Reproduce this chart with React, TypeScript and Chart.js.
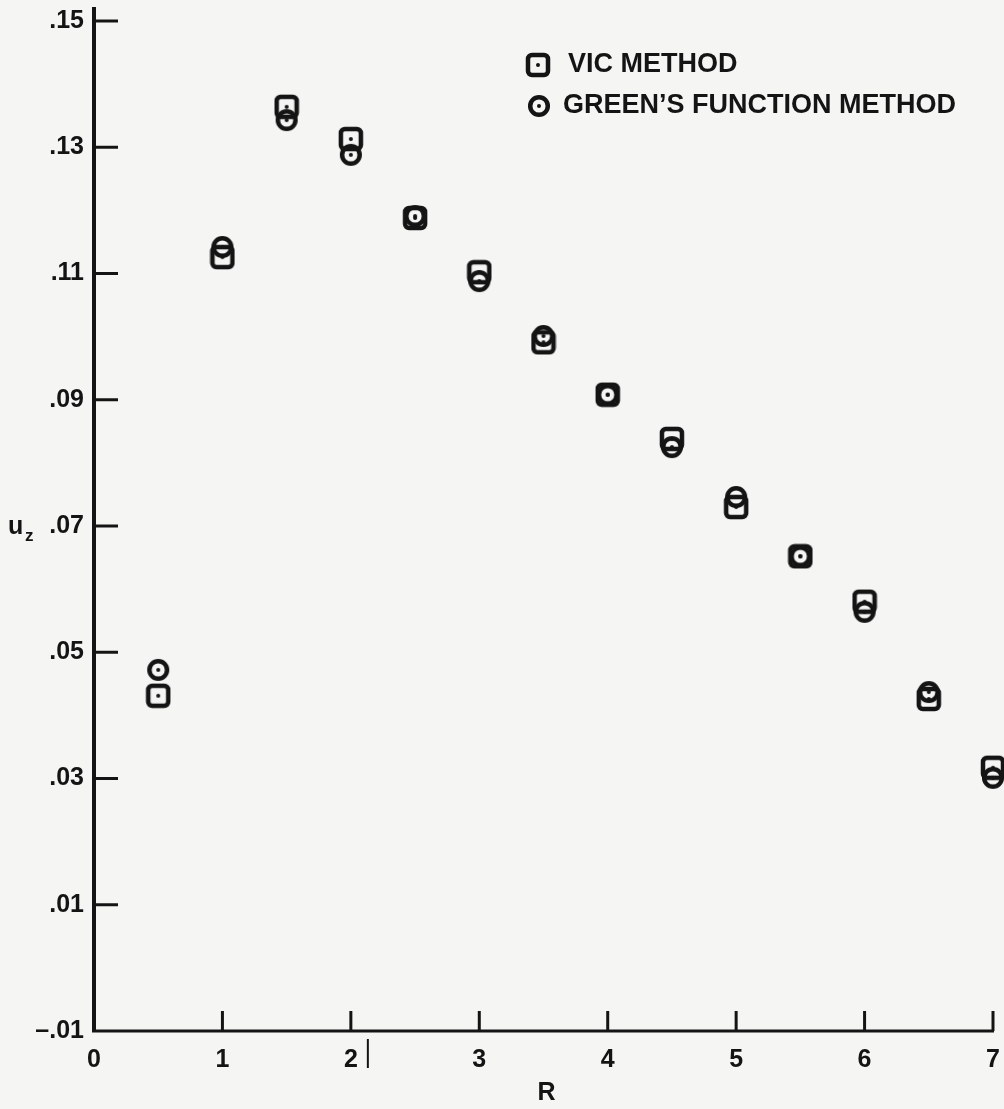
import React, { useEffect, useRef } from "react";
import { Chart, registerables } from "chart.js";

Chart.register(...registerables);

const rValues = [0.5, 1, 1.5, 2, 2.5, 3, 3.5, 4, 4.5, 5, 5.5, 6, 6.5, 7];
const vicValues = [0.0431, 0.1126, 0.1364, 0.1313, 0.1188, 0.1102, 0.0991, 0.0908, 0.0838, 0.073, 0.0652, 0.058, 0.0426, 0.0317];
const greenValues = [0.0472, 0.1142, 0.1343, 0.1288, 0.1191, 0.1088, 0.1001, 0.0908, 0.0825, 0.0746, 0.0652, 0.0564, 0.0437, 0.0301];
const yTickValues = [-0.01, 0.01, 0.03, 0.05, 0.07, 0.09, 0.11, 0.13, 0.15];
const xTickValues = [0, 1, 2, 3, 4, 5, 6, 7];
const seriesNames = ["VIC METHOD", "GREEN\u2019S FUNCTION METHOD"];
const xTitle = "R";
const yTitleMain = "u";
const yTitleSub = "z";

const INK = "#141414";
const FONT = "'Liberation Sans', Arial, Helvetica, sans-serif";

function makeSquare(): HTMLCanvasElement {
  const s = 26;
  const c = document.createElement("canvas");
  c.width = s;
  c.height = s;
  const ctx = c.getContext("2d")!;
  ctx.strokeStyle = INK;
  ctx.lineWidth = 4.5;
  ctx.beginPath();
  (ctx as any).roundRect(3, 3, 20, 20, 4);
  ctx.stroke();
  ctx.fillStyle = INK;
  ctx.beginPath();
  ctx.arc(13, 13, 2, 0, Math.PI * 2);
  ctx.fill();
  return c;
}

function makeCircle(): HTMLCanvasElement {
  const s = 24;
  const c = document.createElement("canvas");
  c.width = s;
  c.height = s;
  const ctx = c.getContext("2d")!;
  ctx.strokeStyle = INK;
  ctx.lineWidth = 4.5;
  ctx.beginPath();
  ctx.arc(12, 12, 8.8, 0, Math.PI * 2);
  ctx.stroke();
  ctx.fillStyle = INK;
  ctx.beginPath();
  ctx.arc(12, 12, 2, 0, Math.PI * 2);
  ctx.fill();
  return c;
}

function fmtY(v: number): string {
  const s = Math.abs(v).toFixed(2).replace(/^0/, "");
  return v < 0 ? "\u2013" + s : s;
}

export default function App() {
  const ref = useRef<HTMLCanvasElement | null>(null);

  useEffect(() => {
    if (!ref.current) return;
    const sq = makeSquare();
    const ci = makeCircle();

    const decor = {
      id: "decor",
      beforeDraw(chart: any) {
        const ctx = chart.ctx;
        ctx.save();
        ctx.fillStyle = "#f5f5f3";
        ctx.fillRect(0, 0, chart.width, chart.height);
        ctx.restore();
      },
      afterDraw(chart: any) {
        const ctx = chart.ctx;
        const { left, right, top, bottom } = chart.chartArea;
        const xs = chart.scales.x;
        const ys = chart.scales.y;
        ctx.save();
        ctx.strokeStyle = INK;
        ctx.lineCap = "butt";
        // y axis line
        ctx.lineWidth = 4;
        ctx.beginPath();
        ctx.moveTo(left, top - 14);
        ctx.lineTo(left, bottom + 1);
        ctx.stroke();
        // x axis line
        ctx.lineWidth = 3;
        ctx.beginPath();
        ctx.moveTo(left - 2, bottom);
        ctx.lineTo(right + 1, bottom);
        ctx.stroke();
        // y ticks pointing inward
        ctx.lineWidth = 3;
        yTickValues.forEach((v) => {
          if (v === yTickValues[0]) return;
          const py = ys.getPixelForValue(v);
          ctx.beginPath();
          ctx.moveTo(left, py);
          ctx.lineTo(left + 24, py);
          ctx.stroke();
        });
        // x ticks pointing up
        xTickValues.forEach((v) => {
          if (v === 0) return;
          const px = xs.getPixelForValue(v);
          ctx.beginPath();
          ctx.moveTo(px, bottom);
          ctx.lineTo(px, bottom - 20);
          ctx.stroke();
        });
        // small stray stroke beside the "2" label, as in the source
        ctx.lineWidth = 2;
        const p2 = xs.getPixelForValue(2);
        ctx.beginPath();
        ctx.moveTo(p2 + 17, bottom + 8);
        ctx.lineTo(p2 + 17, bottom + 37);
        ctx.stroke();
        // axis titles
        ctx.fillStyle = INK;
        ctx.textAlign = "center";
        ctx.textBaseline = "middle";
        ctx.font = `bold 25px ${FONT}`;
        ctx.fillText(xTitle, xs.getPixelForValue(3.5) + 3, bottom + 62);
        const p07 = ys.getPixelForValue(0.07);
        ctx.textAlign = "left";
        ctx.textBaseline = "alphabetic";
        ctx.font = `bold 25px ${FONT}`;
        ctx.fillText(yTitleMain, 8, p07 + 8);
        ctx.font = `bold 17px ${FONT}`;
        ctx.fillText(yTitleSub, 25, p07 + 15);
        // legend
        ctx.drawImage(sq, 538 - sq.width / 2, 65 - sq.height / 2);
        ctx.drawImage(ci, 539 - ci.width / 2, 106 - ci.height / 2);
        ctx.font = `bold 27px ${FONT}`;
        ctx.textBaseline = "middle";
        ctx.fillText(seriesNames[0], 568, 65);
        ctx.fillText(seriesNames[1], 563, 106);
        ctx.restore();
      },
    };

    const chart = new Chart(ref.current, {
      type: "scatter",
      data: {
        datasets: [
          {
            label: seriesNames[0],
            data: rValues.map((x, i) => ({ x, y: vicValues[i] })),
            pointStyle: sq as any,
            pointRadius: 12,
            showLine: false,
            clip: false as any,
          },
          {
            label: seriesNames[1],
            data: rValues.map((x, i) => ({ x, y: greenValues[i] })),
            pointStyle: ci as any,
            pointRadius: 11,
            showLine: false,
            clip: false as any,
          },
        ],
      },
      options: {
        animation: false,
        responsive: false,
        maintainAspectRatio: false,
        events: [],
        layout: { autoPadding: false, padding: { top: 21, right: 11, left: 0, bottom: 0 } },
        plugins: {
          legend: { display: false },
          tooltip: { enabled: false },
          title: { display: false },
        },
        scales: {
          x: {
            type: "linear",
            min: 0,
            max: 7,
            grid: { display: false, drawTicks: false },
            border: { display: false },
            afterBuildTicks: (s: any) => {
              s.ticks = xTickValues.map((v) => ({ value: v }));
            },
            afterFit: (s: any) => {
              s.height = 78;
              s.paddingLeft = 0;
              s.paddingRight = 0;
            },
            ticks: {
              color: INK,
              font: { family: FONT, size: 25, weight: "bold" },
              padding: 14,
              maxRotation: 0,
              autoSkip: false,
              callback: (v: any) => String(v),
            },
          },
          y: {
            type: "linear",
            min: -0.01,
            max: 0.15,
            grid: { display: false, drawTicks: false },
            border: { display: false },
            afterBuildTicks: (s: any) => {
              s.ticks = yTickValues.map((v) => ({ value: v }));
            },
            afterFit: (s: any) => {
              s.width = 94;
              s.paddingTop = 0;
              s.paddingBottom = 0;
            },
            ticks: {
              color: INK,
              font: { family: FONT, size: 25, weight: "bold" },
              padding: 10,
              autoSkip: false,
              callback: (v: any) => fmtY(Number(v)),
            },
          },
        },
      },
      plugins: [decor],
    });
    return () => chart.destroy();
  }, []);

  return (
    <div style={{ position: "absolute", left: 0, top: 0, width: 1004, height: 1109 }}>
      <canvas ref={ref} width={1004} height={1109} style={{ display: "block" }} />
    </div>
  );
}
